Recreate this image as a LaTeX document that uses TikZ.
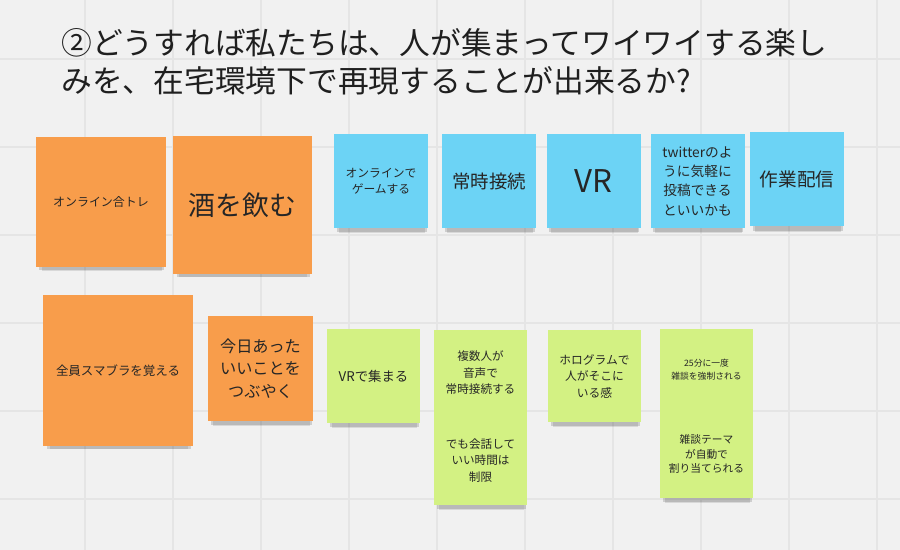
\documentclass[tikz,border=0pt]{standalone}
\usepackage{fontspec}
\setmainfont{Noto Sans CJK JP}
\usetikzlibrary{shadows}
\definecolor{boardbg}{HTML}{F1F1F1}
\definecolor{gridgray}{HTML}{E5E5E5}
\definecolor{noteorange}{HTML}{F89D4B}
\definecolor{noteblue}{HTML}{6CD3F5}
\definecolor{notegreen}{HTML}{D3F183}
\definecolor{inkgray}{HTML}{262626}

\begin{document}
\begin{tikzpicture}[x=0.02cm, y=-0.02cm,
    every node/.style={text=inkgray, align=center, inner sep=0pt},
    notewh/.style 2 args={minimum width=#1*0.02cm, minimum height=#2*0.02cm},
    fs/.style 2 args={font=\fontsize{#1}{#2}\selectfont},
    sticky/.style={rectangle,
        drop shadow={shadow xshift=0.5pt, shadow yshift=-5.5pt, shadow scale=0.92, opacity=0.10, fill=black},
        drop shadow={shadow xshift=0.5pt, shadow yshift=-3.5pt, shadow scale=0.96, opacity=0.14, fill=black}},
    onote/.style={sticky, fill=noteorange},
    bnote/.style={sticky, fill=noteblue, notewh={94}{94}},
    gnote/.style={sticky, fill=notegreen},
    gridline/.style={gridgray, line width=0.6pt}]
    \useasboundingbox (0,0) rectangle (900,550);
    \fill[boardbg] (0,0) rectangle (900,550);
    \foreach \gx in {85,173,...,877} \draw[gridline] (\gx,0) -- (\gx,550);
    \foreach \gy in {59,147,...,499} \draw[gridline] (0,\gy) -- (900,\gy);

    \node[anchor=west, align=left, fs={17.5}{21.5}, text=black!88] (title) at (61,62)
        {②どうすれば私たちは、人が集まってワイワイする楽し\\みを、在宅環境下で再現することが出来るか?};

    % orange
    \node[onote, notewh={130}{130}, fs={6.8}{9}] (gymtrain) at (101,202) {オンライン合トレ};
    \node[onote, notewh={139}{138}, fs={15.3}{18}] (drink) at (242.5,205) {酒を飲む};
    \node[onote, notewh={150}{151}, fs={7.1}{9}] (smash) at (118,370.5) {全員スマブラを覚える};
    \node[onote, notewh={105}{105}, fs={9.2}{12.8}] (tweet) at (260.5,368.5) {今日あった\\いいことを\\つぶやく};

    % blue
    \node[bnote, fs={6.7}{9.1}] (onlinegame) at (381,181) {オンラインで\\ゲームする};
    \node[bnote, fs={10.5}{13}] (alwayson) at (489,181) {常時接続};
    \node[bnote, fs={17.8}{20}] (vr) at (593.5,181) {VR};
    \node[bnote, fs={7.8}{11}] (twitter) at (697.5,181) {twitterのよ\\うに気軽に\\投稿できる\\といいかも};
    \node[bnote, fs={10.6}{13}] (workcast) at (797,179.5) {作業配信};

    % green
    \node[gnote, notewh={93}{94}, fs={7.6}{10}] (vrmeet) at (373.5,376) {VRで集まる};
    \node[gnote, notewh={93}{86}, fs={6.6}{9.4}] (voice) at (480.5,373) {複数人が\\音声で\\常時接続する};
    \node[gnote, notewh={93}{89}, fs={6.6}{9.4}] (limit) at (480.5,460.5) {でも会話して\\いい時間は\\制限};
    \node[gnote, notewh={93}{92}, fs={6.7}{9.4}] (holo) at (594.5,376) {ホログラムで\\人がそこに\\いる感};
    \node[gnote, notewh={93}{81}, fs={5}{7.4}] (chat25) at (706.5,369.5) {25分に一度\\雑談を強制される};
    \node[gnote, notewh={93}{88}, fs={6.1}{8.2}] (theme) at (706.5,454) {雑談テーマ\\が自動で\\割り当てられる};
\end{tikzpicture}
\end{document}
